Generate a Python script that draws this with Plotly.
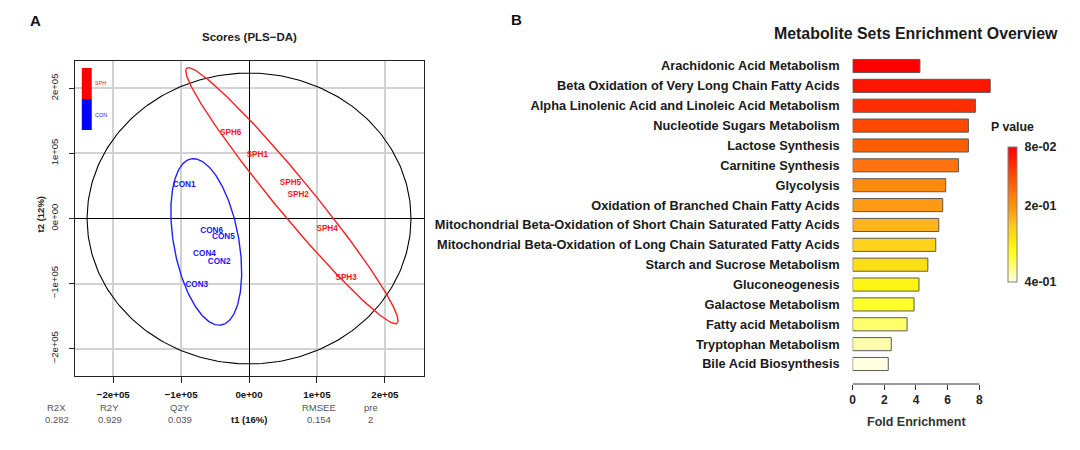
import numpy as np
import plotly.graph_objects as go

# ---------------- Panel A data (PLS-DA scores) ----------------
con_labels = ["CON1", "CON2", "CON3", "CON4", "CON5", "CON6"]
con_t1 = [-0.955e5, -0.44e5, -0.77e5, -0.656e5, -0.377e5, -0.55e5]
con_t2 = [0.52e5, -0.675e5, -1.02e5, -0.552e5, -0.28e5, -0.19e5]
sph_labels = ["SPH1", "SPH2", "SPH3", "SPH4", "SPH5", "SPH6"]
sph_t1 = [0.122e5, 0.724e5, 1.43e5, 1.15e5, 0.61e5, -0.27e5]
sph_t2 = [0.98e5, 0.357e5, -0.92e5, -0.164e5, 0.546e5, 1.32e5]

# ellipses: Hotelling T2, SPH group, CON group
ellipse_cx = [0.0, 0.631e5, -0.63e5]
ellipse_cy = [0.0, 0.35e5, -0.36e5]
ellipse_a = [2.385e5, 2.497e5, 1.295e5]
ellipse_b = [2.235e5, 0.275e5, 0.480e5]
ellipse_angle = [0.0, -51.7, 99.76]

axis_ticks = [-2e5, -1e5, 0, 1e5, 2e5]
axis_ticktext = ["\u22122e+05", "\u22121e+05", "0e+00", "1e+05", "2e+05"]

stat_names = ["R2X", "R2Y", "Q2Y", "RMSEE", "pre"]
stat_values = ["0.282", "0.929", "0.039", "0.154", "2"]

# ---------------- Panel B data (enrichment) ----------------
pathways = [
    "Arachidonic Acid Metabolism",
    "Beta Oxidation of Very Long Chain Fatty Acids",
    "Alpha Linolenic Acid and Linoleic Acid Metabolism",
    "Nucleotide Sugars Metabolism",
    "Lactose Synthesis",
    "Carnitine Synthesis",
    "Glycolysis",
    "Oxidation of Branched Chain Fatty Acids",
    "Mitochondrial Beta-Oxidation of Short Chain Saturated Fatty Acids",
    "Mitochondrial Beta-Oxidation of Long Chain Saturated Fatty Acids",
    "Starch and Sucrose Metabolism",
    "Gluconeogenesis",
    "Galactose Metabolism",
    "Fatty acid Metabolism",
    "Tryptophan Metabolism",
    "Bile Acid Biosynthesis",
]
fold_enrichment = [4.25, 8.69, 7.75, 7.31, 7.31, 6.69, 5.88, 5.69, 5.44, 5.25,
                   4.75, 4.19, 3.88, 3.44, 2.44, 2.25]
bar_colors = ["#FF0000", "#FF1400", "#FF2E00", "#FF4800", "#FF5E00", "#FF7310",
              "#FF8A0F", "#FF9A14", "#FFB41E", "#FFD21E", "#FFDF14", "#FFF514",
              "#FFFF2A", "#FFFF6A", "#FFFFAA", "#FFFFE0"]
pvalue_ticktext = ["8e-02", "2e-01", "4e-01"]
pvalue_tickpos = [1.0, 0.563, 0.0]

W, H = 1080, 450
FONT = "Liberation Sans, Arial, Helvetica, sans-serif"


def px_x(p):
    return p / W


def px_y(p):
    return 1 - p / H


fig = go.Figure()

# ellipses
ell_colors = ["black", "#FF2020", "#2020FF"]
ell_widths = [1.1, 1.4, 1.4]
t = np.linspace(0, 2 * np.pi, 300)
for cx, cy, a, b, ang, col, lw in zip(ellipse_cx, ellipse_cy, ellipse_a, ellipse_b,
                                      ellipse_angle, ell_colors, ell_widths):
    phi = np.deg2rad(ang)
    ex = cx + a * np.cos(t) * np.cos(phi) - b * np.sin(t) * np.sin(phi)
    ey = cy + a * np.cos(t) * np.sin(phi) + b * np.sin(t) * np.cos(phi)
    fig.add_trace(go.Scatter(x=ex, y=ey, mode="lines", line=dict(color=col, width=lw),
                             hoverinfo="skip", showlegend=False, xaxis="x", yaxis="y"))

fig.add_trace(go.Scatter(x=con_t1, y=con_t2, mode="text", text=con_labels,
                         textfont=dict(color="#1515FF", size=8.2, family=FONT, weight="bold"),
                         showlegend=False, xaxis="x", yaxis="y"))
fig.add_trace(go.Scatter(x=sph_t1, y=sph_t2, mode="text", text=sph_labels,
                         textfont=dict(color="#FF1515", size=8.2, family=FONT, weight="bold"),
                         showlegend=False, xaxis="x", yaxis="y"))

# bars
n = len(pathways)
rank_pos = [(n - 1 - i) / (n - 1) for i in range(n)]
colorscale = [[(n - 1 - i) / (n - 1), c] for i, c in reversed(list(enumerate(bar_colors)))]
fig.add_trace(go.Bar(
    x=fold_enrichment, y=pathways, orientation="h", width=0.66,
    marker=dict(color=rank_pos, colorscale=colorscale, cmin=0, cmax=1,
                line=dict(color="#5a5a5a", width=1),
                showscale=True,
                colorbar=dict(thickness=9, len=135 / H, lenmode="fraction",
                              x=px_x(1008), xanchor="left", y=px_y(214.5), yanchor="middle",
                              xpad=0, ypad=0, outlinewidth=1, outlinecolor="#808080",
                              tickvals=pvalue_tickpos, ticktext=pvalue_ticktext,
                              ticks="outside", ticklen=5, tickcolor="rgba(0,0,0,0)",
                              tickfont=dict(size=12.5, color="#222", family=FONT, weight="bold"))),
    showlegend=False, xaxis="x2", yaxis="y2", hoverinfo="x+y"))

fig.update_layout(
    width=W, height=H, margin=dict(l=0, r=0, t=0, b=0),
    paper_bgcolor="white", plot_bgcolor="white",
    font=dict(family=FONT),
    xaxis=dict(domain=[px_x(72), px_x(422)], range=[-2.566e5, 2.574e5],
               tickvals=axis_ticks, ticktext=axis_ticktext,
               tickfont=dict(size=9.7, color="#111", weight="bold"),
               showgrid=True, gridcolor="#D2D2D2", gridwidth=1.5,
               zeroline=True, zerolinecolor="black", zerolinewidth=1,
               showline=True, linecolor="#222", linewidth=1.2, mirror=True,
               ticks="outside", ticklen=6, tickcolor="#222", anchor="y",
               ticklabelstandoff=3),
    yaxis=dict(domain=[px_y(376), px_y(61)], range=[-2.42e5, 2.42e5],
               tickvals=axis_ticks, ticktext=axis_ticktext, tickangle=-90,
               tickfont=dict(size=9.5, color="#222"),
               showgrid=True, gridcolor="#D2D2D2", gridwidth=1.5,
               zeroline=True, zerolinecolor="black", zerolinewidth=1,
               showline=True, linecolor="#222", linewidth=1.2, mirror=True,
               ticks="outside", ticklen=5, tickcolor="#222", anchor="x",
               ticklabelstandoff=7),
    xaxis2=dict(domain=[px_x(852), px_x(1000)], range=[0, 9.32], anchor="y2",
                tickvals=[0, 2, 4, 6, 8], showgrid=False, zeroline=False, showline=False,
                ticks="outside", ticklen=5, tickcolor="#333",
                tickfont=dict(size=12, color="#222", weight="bold")),
    yaxis2=dict(domain=[px_y(384), px_y(56)], anchor="x2", type="category",
                categoryorder="array", categoryarray=pathways,
                range=[16.006, -0.503], showgrid=False, zeroline=False, showline=False,
                ticks="", ticklabelstandoff=12,
                tickfont=dict(size=12.8, color="#1a1a1a", weight="bold")),
)

# axis line of panel B
fig.add_shape(type="line", xref="x2", yref="y2 domain", x0=0, x1=8, y0=0, y1=0,
              line=dict(color="#333", width=1))

# legend boxes in panel A
fig.add_shape(type="rect", xref="paper", yref="paper", x0=px_x(79), x1=px_x(89),
              y0=px_y(99), y1=px_y(68), fillcolor="#FF0000", line=dict(width=0))
fig.add_shape(type="rect", xref="paper", yref="paper", x0=px_x(79), x1=px_x(89),
              y0=px_y(130), y1=px_y(99), fillcolor="#0000FF", line=dict(width=0))

ann = []


def add_text(txt, x, y, size, color="#111", bold=False, xanchor="center"):
    ann.append(dict(text=txt, x=px_x(x), y=px_y(y), xref="paper", yref="paper",
                    showarrow=False, xanchor=xanchor, yanchor="middle",
                    font=dict(size=size, color=color, family=FONT,
                              weight="bold" if bold else "normal")))


add_text("SPH", 90, 83, 5.5, "#FF2020", xanchor="left")
add_text("CON", 90, 115, 5.5, "#2020FF", xanchor="left")
add_text("A", 33, 21, 15, "#111", True)
add_text("B", 515, 20, 15, "#111", True)
add_text("Scores (PLS\u2212DA)", 247, 37, 11.5, "#222", True)
add_text("Metabolite Sets Enrichment Overview", 916, 33, 15.9, "#1a1a1a", True)
add_text("P value", 1012, 127, 12.3, "#1a1a1a", True)
add_text("Fold Enrichment", 916, 422, 12.5, "#333", True)
ann.append(dict(text="t2 (12%)", x=px_x(31), y=px_y(214), xref="paper", yref="paper",
                showarrow=False, textangle=-90, font=dict(size=9.5, color="#222", family=FONT,
                                                         weight="bold")))

stat_px = [54, 107, 177, 317, 369]
for name, val, sx in zip(stat_names, stat_values, stat_px):
    add_text(name, sx, 407, 9.5, "#555")
    add_text(val, sx, 419, 9.5, "#555")
add_text("t1 (16%)", 247, 419, 9.5, "#111", True)

fig.update_layout(annotations=ann)
fig.write_html("out.html", config={"displayModeBar": False},
               post_script="document.body.style.margin='0px';document.body.style.padding='0px';")
